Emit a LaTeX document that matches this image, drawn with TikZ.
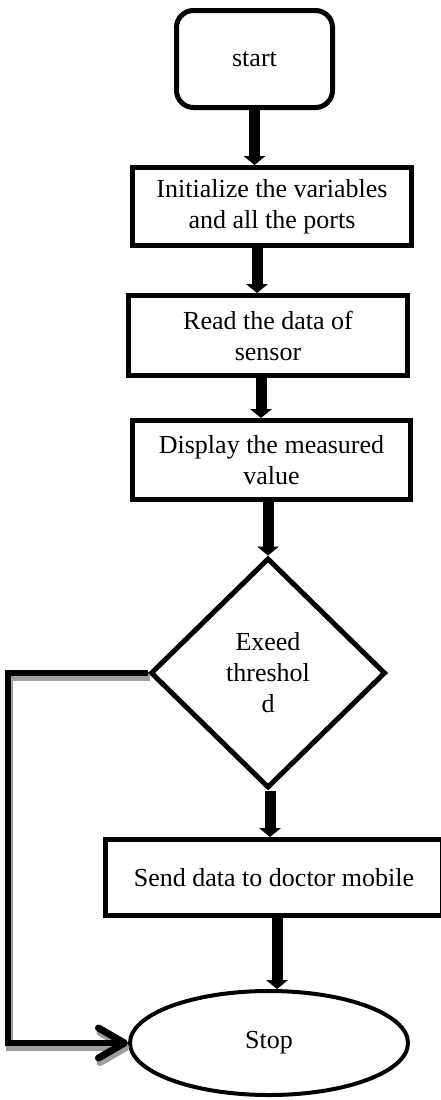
\documentclass[tikz,border=0pt]{standalone}
\usepackage{fontspec}
\setmainfont{Liberation Serif}
\usetikzlibrary{shapes.geometric,arrows.meta}
\begin{document}
\begin{tikzpicture}[x=1pt,y=-1pt,
  every node/.style={font=\fontsize{26}{31}\selectfont, align=center, inner sep=0pt},
  procbox/.style={draw, line width=5pt, rectangle},
  startbox/.style={draw, line width=5pt, rectangle, rounded corners=17pt},
  decbox/.style={draw, line width=5pt, diamond},
  endbox/.style={draw, line width=4pt, ellipse},
  flow/.style={line width=11pt, -{Triangle[width=22pt,length=9pt,line width=0pt]}},
  branch/.style={line width=6.5pt, line join=miter, -{Straight Barb[length=26pt,width=30pt,line width=7pt,round]}},
  branchshadow/.style={branch, draw=black!38, transform canvas={shift={(1.5pt,-4.5pt)}}}
]
\useasboundingbox (0,0) rectangle (440,1100);

\node[startbox, minimum width=156pt, minimum height=97pt] (start) at (254.5,59) {start};
\node[procbox, minimum width=279pt, minimum height=78pt] (init) at (272,206.5) {Initialize the variables\\and all the ports};
\node[procbox, minimum width=279pt, minimum height=80pt] (read) at (268,335.5) {Read the data of\\sensor};
\node[procbox, minimum width=278pt, minimum height=79pt] (disp) at (271.5,460) {Display the measured\\value};
\node[decbox, minimum width=235pt, minimum height=230pt] (dec) at (268,673) {Exeed\\threshol\\d};
\node[procbox, minimum width=337pt, minimum height=76pt] (send) at (274,877.5) {Send data to doctor mobile};
\node[endbox, minimum width=278pt, minimum height=104pt] (stop) at (269,1043) {Stop};

\coordinate (x2) at (257,0);
\coordinate (x3) at (261,0);
\coordinate (x4) at (268,0);
\coordinate (x5) at (270,0);
\coordinate (x6) at (277,0);

\draw[flow] (start.south) -- (start.south |- init.north);
\draw[flow] (init.south -| x2) -- (read.north -| x2);
\draw[flow] (read.south -| x3) -- (disp.north -| x3);
\draw[flow] (disp.south -| x4) -- (dec.north);
\draw[flow] (dec.south -| x5) -- (send.north -| x5);
\draw[flow] (send.south -| x6) -- (stop.north -| x6);

\draw[branchshadow] (dec.west) -- ++(-140,0) |- (stop.west);
\draw[branch] (dec.west) -- ++(-140,0) |- (stop.west);
\end{tikzpicture}
\end{document}
